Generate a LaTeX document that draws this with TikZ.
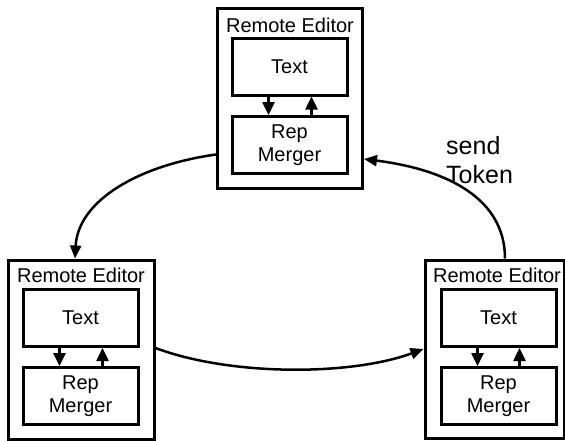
\documentclass[tikz,border=0pt]{standalone}
\usepackage{fontspec}
\setmainfont{Liberation Sans}
\usetikzlibrary{arrows.meta}
\begin{document}
\begin{tikzpicture}[x=1pt,y=-1pt,
  editor/.style={draw,line width=3pt,rectangle,inner sep=0pt,minimum width=145pt,minimum height=180pt},
  part/.style={draw,line width=3pt,rectangle,inner sep=0pt,minimum width=115pt,minimum height=57pt,
    align=center,font=\fontsize{20}{23}\selectfont},
  title/.style={inner sep=0pt,font=\fontsize{20}{23}\selectfont},
  link/.style={line width=2.5pt,-{Triangle[length=13pt,width=11pt]}},
  flow/.style={line width=2.5pt,-{Triangle[length=13pt,width=12pt]}}]
\useasboundingbox (0,0) rectangle (565,440);

% top editor
\node[editor] (eA) at (290,98.5) {};
\node[title] (tA) at (290,25) {Remote Editor};
\node[part] (xA) at (289.5,66.5) {Text};
\node[part] (mA) at (289.5,145) {Rep\\Merger};
\draw[flow] ([xshift=-21pt]xA.south) -- ([xshift=-21pt]mA.north);
\draw[flow] ([xshift=22pt]mA.north) -- ([xshift=22pt]xA.south);

% left editor
\node[editor,minimum width=146pt,minimum height=179pt] (eB) at (81,349.5) {};
\node[title] (tB) at (81,275) {Remote Editor};
\node[part] (xB) at (80.5,318) {Text};
\node[part] (mB) at (80.5,396) {Rep\\Merger};
\draw[flow] ([xshift=-21pt]xB.south) -- ([xshift=-21pt]mB.north);
\draw[flow] ([xshift=22pt]mB.north) -- ([xshift=22pt]xB.south);

% right editor
\node[editor,minimum width=139pt,minimum height=178pt] (eC) at (494.5,349) {};
\node[title] (tC) at (497,275) {Remote Editor};
\node[part] (xC) at (498.5,318) {Text};
\node[part] (mC) at (498.5,396) {Rep\\Merger};
\draw[flow] ([xshift=-21pt]xC.south) -- ([xshift=-21pt]mC.north);
\draw[flow] ([xshift=21pt]mC.north) -- ([xshift=21pt]xC.south);

% token ring
\draw[link] ([yshift=-56pt]eA.west) .. controls (140,165) and (78,200) .. ([xshift=-6pt]eB.north);
\draw[link] ([yshift=1.5pt]eB.east) .. controls (230,376) and (350,376) .. (eC.west);
\draw[link] ([xshift=10.5pt]eC.north) .. controls (505,200) and (450,170) .. ([yshift=-60.5pt]eA.east);

\node[anchor=west,align=left,inner sep=0pt,font=\fontsize{25}{29}\selectfont] (lbl) at (446,160) {send\\Token};
\end{tikzpicture}
\end{document}
